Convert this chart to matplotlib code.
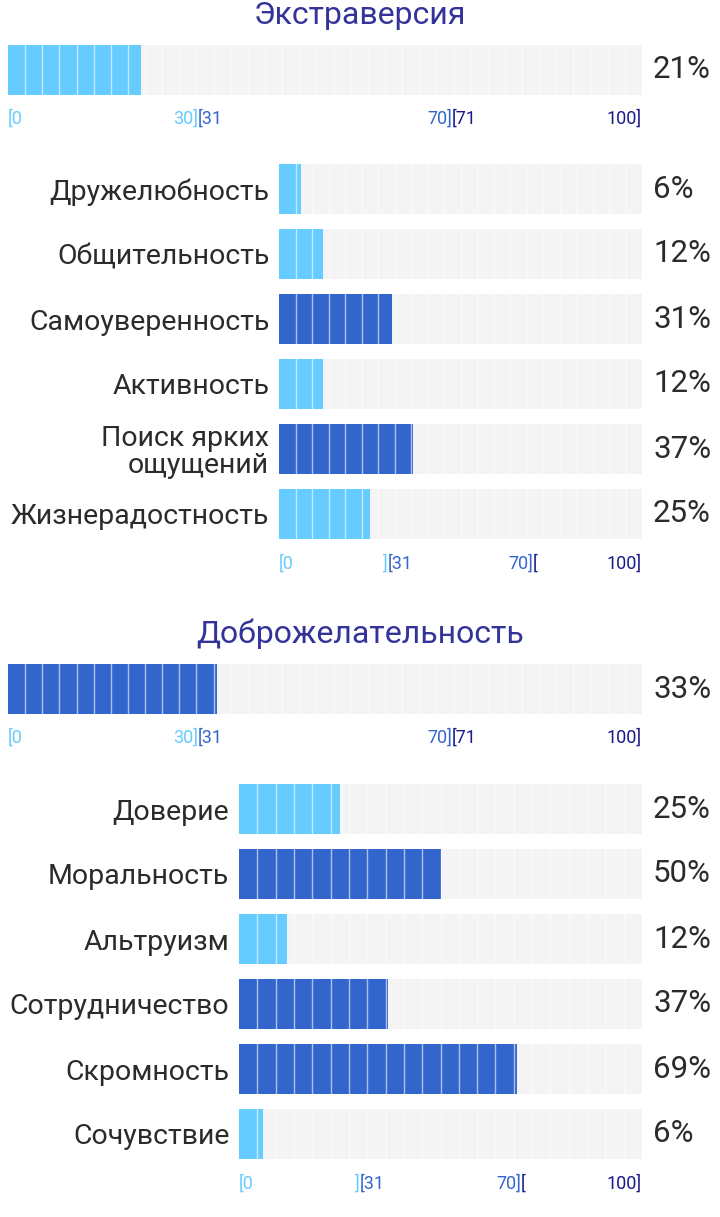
import matplotlib
matplotlib.use("Agg")
import matplotlib.pyplot as plt
from matplotlib.transforms import blended_transform_factory

plt.rcParams['font.family'] = ['Roboto', 'DejaVu Sans']

# ---- data ----
title1 = "Экстраверсия"
main1 = 21
cats1 = ["Дружелюбность", "Общительность", "Самоуверенность", "Активность",
         "Поиск ярких\nощущений", "Жизнерадостность"]
vals1 = [6, 12, 31, 12, 37, 25]

title2 = "Доброжелательность"
main2 = 33
cats2 = ["Доверие", "Моральность", "Альтруизм", "Сотрудничество",
         "Скромность", "Сочувствие"]
vals2 = [25, 50, 12, 37, 69, 6]

main_ticks = [(0, "[0", "left", 0), (30, "30]", "right", 0), (30, "[31", "left", 1),
              (70, "70]", "right", 1), (70, "[71", "left", 2), (100, "100]", "right", 2)]
sub_ticks = [(0, "[0", "left", 0), (30, "]", "right", 0), (30, "[31", "left", 1),
             (70, "70]", "right", 1), (70, "[", "left", 2), (100, "100]", "right", 2)]

LIGHT = "#66CCFF"
MID = "#3366CC"
DARK = "#1A1A8C"
TICK_COLORS = [LIGHT, MID, DARK]
BG = "#F4F4F4"
TITLE_C = "#333399"
TEXT_C = "#2B2B2B"

W, H = 720, 1217
fig = plt.figure(figsize=(W / 100, H / 100), dpi=100)


def color_for(v):
    if v <= 30:
        return LIGHT
    if v <= 70:
        return MID
    return DARK


def rect(x0, top, w, h):
    return [x0 / W, 1 - (top + h) / H, w / W, h / H]


def style(ax):
    ax.set_xlim(0, 100)
    for sp in ax.spines.values():
        sp.set_visible(False)
    ax.tick_params(left=False, bottom=False, labelbottom=False, length=0)


def tick_row(x0, top, width, ticks):
    tax = fig.add_axes(rect(x0, top, width, 20))
    style(tax)
    tax.set_ylim(0, 1)
    tax.set_yticks([])
    tax.patch.set_alpha(0)
    tr = blended_transform_factory(tax.transData, tax.transAxes)
    for x, s, ha, ci in ticks:
        tax.text(x, 0.5, s, transform=tr, ha=ha, va="center", fontsize=13,
                 color=TICK_COLORS[ci])


def main_bar(top, title, value):
    fig.text(0.5, 1 - (top - 30) / H, title, ha="center", va="center",
             fontsize=23, color=TITLE_C)
    ax = fig.add_axes(rect(8, top, 634, 50))
    style(ax)
    ax.set_ylim(0, 1)
    ax.barh(0.5, 100, height=1, color=BG)
    ax.barh(0.5, value, height=1, color=color_for(value))
    n = 37
    for k in range(1, n):
        ax.axvline(k * 100 / n, color="white", lw=1, alpha=0.6)
    ax.set_yticks([])
    ax.annotate(f"{value}%", xy=(100, 0.5), xytext=(8, 0), textcoords="offset points",
                ha="left", va="center", fontsize=22.5, color=TEXT_C)
    tick_row(8, top + 50 + 14, 634, main_ticks)


def sub_bars(x0, top, cats, vals):
    rows = len(cats)
    ax = fig.add_axes(rect(x0, top - 7.5, 642 - x0, 65 * rows))
    style(ax)
    y = list(range(rows))
    ax.set_ylim(rows - 0.5, -0.5)
    ax.barh(y, [100] * rows, height=50 / 65, color=BG)
    ax.barh(y, vals, height=50 / 65, color=[color_for(v) for v in vals])
    n = 22
    for k in range(1, n):
        ax.axvline(k * 100 / n, color="white", lw=1, alpha=0.6)
    ax.set_yticks(y)
    ax.set_yticklabels(cats, fontsize=20.5, color=TEXT_C, linespacing=1.0)
    ax.tick_params(axis="y", pad=7)
    for yi, v in zip(y, vals):
        ax.annotate(f"{v}%", xy=(100, yi), xytext=(8, 0), textcoords="offset points",
                    ha="left", va="center", fontsize=22.5, color=TEXT_C)
    tick_row(x0, top + 65 * rows - 15 + 15, 642 - x0, sub_ticks)


main_bar(45, title1, main1)
sub_bars(279, 164, cats1, vals1)
main_bar(664, title2, main2)
sub_bars(239, 784, cats2, vals2)

fig.savefig("out.png", dpi=100)
